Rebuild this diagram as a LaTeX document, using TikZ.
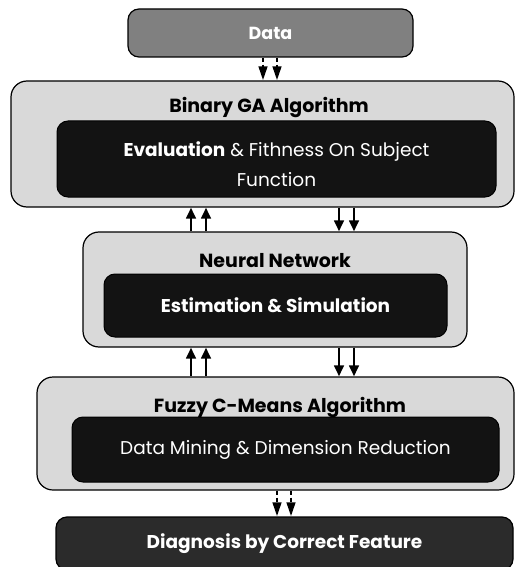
\documentclass[tikz,border=0pt]{standalone}
\usepackage{fontspec}
\setmainfont{Poppins}
\usetikzlibrary{arrows.meta, positioning}
\definecolor{boxgray}{HTML}{D9D9D9}
\definecolor{boxblack}{HTML}{131313}
\definecolor{datagray}{HTML}{808080}
\definecolor{diaggray}{HTML}{2B2B2B}
\begin{document}
\begin{tikzpicture}[
    x=1pt, y=-1pt,
    outerbox/.style={rectangle, draw, line width=1.2pt, fill=boxgray, rounded corners=16pt, inner sep=0pt},
    innerbox/.style={rectangle, draw, line width=1pt, fill=boxblack, rounded corners=11pt, inner sep=0pt, text=white, align=center, font=\fontsize{18.5}{30}\selectfont},
    innertext/.style={inner sep=0pt, text=white, align=center, font=\fontsize{18.5}{30}\selectfont},
    endbox/.style={rectangle, draw, line width=1.2pt, rounded corners=11pt, inner sep=0pt, text=white, font=\fontsize{18.5}{22}\selectfont\bfseries},
    boxtitle/.style={font=\fontsize{19}{22}\selectfont\bfseries, inner sep=0pt},
    arrow/.style={-{Triangle[length=11pt, width=9.5pt]}, line width=2.6pt},
    dasharrow/.style={-{Triangle[length=14pt, width=8.5pt]}, line width=2.6pt, dash pattern=on 4pt off 3pt}
]
    \useasboundingbox (0,0) rectangle (515,567);

    % boxes
    \node[endbox, fill=datagray, minimum width=285pt, minimum height=48pt, font=\fontsize{17.5}{20}\selectfont\bfseries] (data) at (270.5,33) {Data};

    \node[outerbox, minimum width=503pt, minimum height=126pt] (ga) at (262.5,144) {};
    \node[boxtitle] (gatitle) at (269,108) {Binary GA Algorithm};
    \node[innerbox, minimum width=439pt, minimum height=76pt] (gainner) at (276.5,159) {};
    \node[innertext] (gatext) at (276.5,164) {\textbf{Evaluation} \& Fithness On Subject\\Function};

    \node[outerbox, minimum width=384pt, minimum height=115pt] (nn) at (275,289.5) {};
    \node[boxtitle] (nntitle) at (275,261) {Neural Network};
    \node[innerbox, minimum width=343pt, minimum height=63pt] (nninner) at (275.5,305.5) {\bfseries Estimation \& Simulation};

    \node[outerbox, minimum width=477pt, minimum height=113pt] (fcm) at (275.5,433.5) {};
    \node[boxtitle] (fcmtitle) at (280,407) {Fuzzy C-Means Algorithm};
    \node[innerbox, minimum width=427pt, minimum height=65pt] (fcminner) at (285.5,449.5) {Data Mining \& Dimension Reduction};

    \node[endbox, fill=diaggray, minimum width=457pt, minimum height=53pt] (diag) at (284.5,543.5) {Diagnosis by Correct Feature};

    % arrow columns
    \coordinate (dA) at (263,0);
    \coordinate (dB) at (277,0);
    \coordinate (uA) at (191,0);
    \coordinate (uB) at (206,0);
    \coordinate (wA) at (339,0);
    \coordinate (wB) at (354,0);
    \coordinate (eA) at (277,0);
    \coordinate (eB) at (291,0);

    % connectors
    \draw[dasharrow] (data.south -| dA) -- (ga.north -| dA);
    \draw[dasharrow] (data.south -| dB) -- (ga.north -| dB);
    \draw[arrow] (nn.north -| uA) -- (ga.south -| uA);
    \draw[arrow] (nn.north -| uB) -- (ga.south -| uB);
    \draw[arrow] (ga.south -| wA) -- (nn.north -| wA);
    \draw[arrow] (ga.south -| wB) -- (nn.north -| wB);
    \draw[arrow] (fcm.north -| uA) -- (nn.south -| uA);
    \draw[arrow] (fcm.north -| uB) -- (nn.south -| uB);
    \draw[arrow] (nn.south -| wA) -- (fcm.north -| wA);
    \draw[arrow] (nn.south -| wB) -- (fcm.north -| wB);
    \draw[dasharrow] (fcm.south -| eA) -- (diag.north -| eA);
    \draw[dasharrow] (fcm.south -| eB) -- (diag.north -| eB);
\end{tikzpicture}
\end{document}
